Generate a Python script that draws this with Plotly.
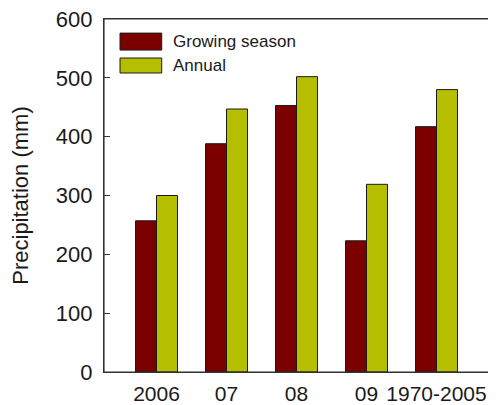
import plotly.graph_objects as go

categories = ["2006", "07", "08", "09", "1970-2005"]
growing_season = [257, 388, 453, 223, 417]
annual = [300, 447, 502, 319, 480]
y_ticks = [0, 100, 200, 300, 400, 500, 600]
series_names = ["Growing season", "Annual"]

RED = "#7B0000"
YEL = "#B6BE00"
EDGE = "#1a1a1a"
FONT = "Liberation Sans, Arial, sans-serif"

fig = go.Figure()
fig.add_trace(go.Bar(x=categories, y=growing_season, name=series_names[0],
                     marker=dict(color=RED, line=dict(color=EDGE, width=1))))
fig.add_trace(go.Bar(x=categories, y=annual, name=series_names[1],
                     marker=dict(color=YEL, line=dict(color=EDGE, width=1))))

# legend drawn in paper coordinates (large swatches as in reference)
legend_items = [(series_names[0], RED, 0.912, 0.960), (series_names[1], YEL, 0.847, 0.8895)]
for name, col, y0, y1 in legend_items:
    fig.add_shape(type="rect", xref="paper", yref="paper", x0=0.0416, x1=0.1499,
                  y0=y0, y1=y1, fillcolor=col, line=dict(color=EDGE, width=1))
    fig.add_annotation(xref="paper", yref="paper", x=0.174, y=(y0 + y1) / 2,
                       text=name, showarrow=False, xanchor="left", yanchor="middle",
                       font=dict(size=17, family=FONT, color=EDGE))

# plot frame
fig.add_shape(type="rect", xref="paper", yref="paper", x0=0, x1=1, y0=0, y1=1,
              line=dict(color="#333", width=1.2), fillcolor="rgba(0,0,0,0)", layer="above")

# page body has an 8px margin, so the figure is sized/offset accordingly
fig.update_layout(
    width=488, height=397,
    margin=dict(l=96, r=7, t=11, b=33),
    paper_bgcolor="white", plot_bgcolor="white",
    barmode="group", bargap=0.4, bargroupgap=0,
    font=dict(family=FONT, color=EDGE),
    showlegend=False,
)
fig.update_xaxes(
    range=[-0.75, 4.75], showline=True, linecolor="#333", linewidth=1.2,
    mirror=True, ticks="", tickfont=dict(size=21), showgrid=False,
    automargin=False, ticklabelstandoff=3, ticklabeloverflow="allow",
)
fig.update_yaxes(
    range=[0, 600], tickvals=y_ticks, showline=True, linecolor="#333",
    linewidth=1.2, mirror=True, ticks="inside", ticklen=6, tickcolor="#333",
    tickfont=dict(size=22), showgrid=False, zeroline=False, automargin=False,
    ticklabelstandoff=6, ticklabeloverflow="allow",
    title=dict(text="Precipitation (mm)", font=dict(size=22), standoff=25),
)
fig.write_html("out.html")
